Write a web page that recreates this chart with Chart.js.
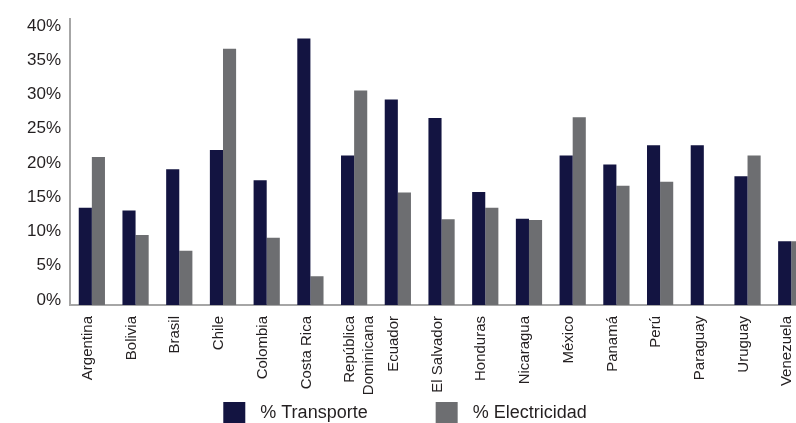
<!DOCTYPE html>
<html>
<head>
<meta charset="utf-8">
<script src="https://cdn.jsdelivr.net/npm/chart.js@4/dist/chart.umd.min.js"></script>
<style>
  html, body { margin: 0; padding: 0; background: #ffffff; overflow: hidden; }
  #wrap { width: 821px; height: 423px; }
</style>
</head>
<body>
<div id="wrap"><canvas id="chart" width="821" height="423"></canvas></div>
<script>
// Countries (category axis)
const countries = [
  'Argentina', 'Bolivia', 'Brasil', 'Chile', 'Colombia', 'Costa Rica',
  ['República', 'Dominicana'], 'Ecuador', 'El Salvador', 'Honduras',
  'Nicaragua', 'México', 'Panamá', 'Perú', 'Paraguay', 'Uruguay', 'Venezuela'
];

// Share of transport (%)
const transporte = [14.2, 13.8, 19.8, 22.6, 18.2, 38.9, 21.8, 30.0, 27.3, 16.5, 12.6, 21.8, 20.5, 23.3, 23.3, 18.8, 9.3];

// Share of electricity (%)
const electricidad = [21.6, 10.2, 7.9, 37.4, 9.8, 4.2, 31.3, 16.4, 12.5, 14.2, 12.4, 27.4, 17.4, 18.0, 0, 21.8, 9.3];

// Series names
const seriesNames = ['% Transporte', '% Electricidad'];

// Y axis tick values
const yTicks = [0, 5, 10, 15, 20, 25, 30, 35, 40];

const NAVY = '#131441';
const GREY = '#6d6e71';
const TEXT = '#231f20';
const AXIS = '#a6a6a6';
const FONT = "'Liberation Sans', Arial, Helvetica, sans-serif";

// Legend drawn under the chart with wide swatch/text spacing
const bottomLegend = {
  id: 'bottomLegend',
  afterDraw(chart) {
    const ctx = chart.ctx;
    const box = 22, gap = 15, spacing = 68;
    const cy = 413;
    ctx.save();
    ctx.font = '18px ' + FONT;
    ctx.textBaseline = 'middle';
    ctx.textAlign = 'left';
    const items = chart.data.datasets.map(ds => ({
      text: ds.label, color: ds.backgroundColor, w: ctx.measureText(ds.label).width
    }));
    let total = 0;
    items.forEach((it, i) => { total += box + gap + it.w + (i ? spacing : 0); });
    let x = 405 - total / 2;
    items.forEach(it => {
      ctx.fillStyle = it.color;
      ctx.fillRect(x, cy - box / 2, box, box);
      ctx.fillStyle = TEXT;
      ctx.fillText(it.text, x + box + gap, cy);
      x += box + gap + it.w + spacing;
    });
    ctx.restore();
  }
};

new Chart(document.getElementById('chart'), {
  type: 'bar',
  data: {
    labels: countries,
    datasets: [
      { label: seriesNames[0], data: transporte, backgroundColor: NAVY },
      { label: seriesNames[1], data: electricidad, backgroundColor: GREY }
    ]
  },
  options: {
    responsive: false,
    animation: false,
    devicePixelRatio: 1,
    layout: { padding: { top: 15, right: 0, bottom: 0, left: 0 } },
    datasets: { bar: { categoryPercentage: 0.6, barPercentage: 1.0 } },
    plugins: {
      legend: { display: false },
      tooltip: { enabled: false }
    },
    scales: {
      x: {
        grid: { display: false, drawTicks: false },
        border: { display: true, color: AXIS, width: 2 },
        ticks: {
          color: TEXT,
          font: { family: FONT, size: 15, lineHeight: 1.25 },
          minRotation: 90,
          maxRotation: 90,
          autoSkip: false,
          padding: 11,
          labelOffset: -4
        },
        afterFit(scale) { scale.height = 118; }
      },
      y: {
        min: 0,
        max: 41.7,
        grid: { display: false, drawTicks: false },
        border: { display: true, color: AXIS, width: 2 },
        afterBuildTicks(scale) {
          scale.ticks = yTicks.map(v => ({ value: v }));
        },
        ticks: {
          color: TEXT,
          font: { family: FONT, size: 17 },
          padding: 9,
          labelOffset: -5,
          callback: v => v + '%'
        },
        afterFit(scale) { scale.width = 70; }
      }
    }
  },
  plugins: [bottomLegend]
});
</script>
</body>
</html>
